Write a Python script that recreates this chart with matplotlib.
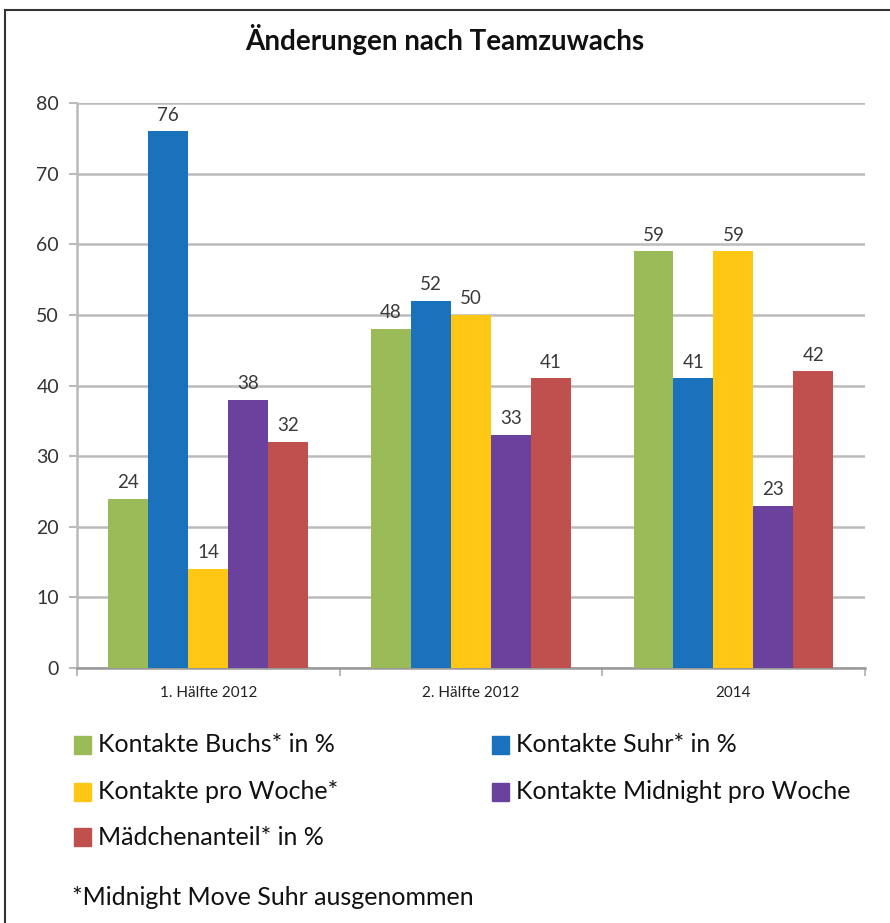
import matplotlib.pyplot as plt
import numpy as np

categories = ["1. Hälfte 2012", "2. Hälfte 2012", "2014"]
series = ["Kontakte Buchs* in %", "Kontakte Suhr* in %", "Kontakte pro Woche*",
          "Kontakte Midnight pro Woche", "Mädchenanteil* in %"]
buchs = [24, 48, 59]
suhr = [76, 52, 41]
pro_woche = [14, 50, 59]
midnight = [38, 33, 23]
maedchen = [32, 41, 42]
colors = ["#9BBB59", "#1B72BC", "#FFC713", "#6A419C", "#C0504D"]

plt.rcParams['font.family'] = ['Lato', 'DejaVu Sans']

fig = plt.figure(figsize=(8.9, 9.23), dpi=100)
ax = fig.add_axes([0.0865, 0.2763, 0.885, 0.612])

values = [buchs, suhr, pro_woche, midnight, maedchen]
x = np.arange(len(categories))
w = 0.152
for i, (vals, col) in enumerate(zip(values, colors)):
    pos = x + (i - 2) * w
    ax.bar(pos, vals, w, color=col, zorder=3, label=series[i])
    for p, v in zip(pos, vals):
        ax.text(p, v + 1.1, str(v), ha='center', va='bottom', fontsize=13.5, color='#3a3a3a')

ax.set_ylim(0, 80)
ax.set_xlim(-0.5, 2.5)
ax.set_yticks(range(0, 81, 10))
ax.yaxis.grid(True, color='#BBBBBB', linewidth=1.8, zorder=0)
ax.set_xticks(x)
ax.set_xticklabels(categories, fontsize=11, color='#222222')
ax.set_xticks([-0.5, 0.5, 1.5, 2.5], minor=True)
ax.tick_params(axis='x', which='major', length=0, pad=13)
ax.tick_params(axis='x', which='minor', length=6, color='#BBBBBB', width=1.5)
ax.tick_params(axis='y', length=6, color='#BBBBBB', width=1.5, labelsize=14, labelcolor='#333333', pad=7)
for s in ['top', 'right']:
    ax.spines[s].set_visible(False)
ax.spines['left'].set_color('#BBBBBB')
ax.spines['left'].set_linewidth(1.8)
ax.spines['bottom'].set_color('#999999')
ax.spines['bottom'].set_linewidth(1.8)

fig.text(0.5, 0.957, "Änderungen nach Teamzuwachs", ha='center', va='center',
         fontsize=20, fontweight='bold', color='#111111')

# legend laid out manually in two columns like the original
leg_pos = [(0.083, 0.193), (0.553, 0.193), (0.083, 0.142), (0.553, 0.142), (0.083, 0.093)]
for (lx, ly), name, col in zip(leg_pos, series, colors):
    fig.patches.append(plt.Rectangle((lx, ly - 0.0095), 0.019, 0.019, color=col,
                                     transform=fig.transFigure, figure=fig))
    fig.text(lx + 0.027, ly, name, ha='left', va='center', fontsize=18, color='#111111')

fig.text(0.081, 0.028, "*Midnight Move Suhr ausgenommen", ha='left', va='center',
         fontsize=18, color='#111111')

# outer frame of the screenshot
fig.add_artist(plt.Line2D([0.006, 0.006], [0, 0.989], color='#333333', linewidth=1.5,
                          transform=fig.transFigure))
fig.add_artist(plt.Line2D([0.006, 1.0], [0.989, 0.989], color='#333333', linewidth=1.5,
                          transform=fig.transFigure))

fig.savefig("out.png", dpi=100)
